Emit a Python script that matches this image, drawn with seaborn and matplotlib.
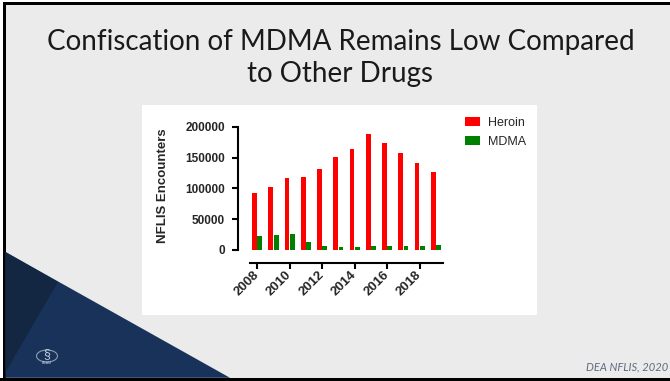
import matplotlib
matplotlib.use("Agg")
import matplotlib.pyplot as plt
import seaborn as sns
import pandas as pd
from matplotlib.patches import Polygon, Circle

W, H = 670, 381

# NFLIS encounters per year
years = [2008, 2009, 2010, 2011, 2012, 2013, 2014, 2015, 2016, 2017, 2018, 2019]
heroin = [92400, 102200, 117300, 118900, 130800, 150800, 163200, 187600, 173000, 156800, 140500, 127000]
mdma = [23200, 23800, 25900, 13500, 6500, 5400, 5400, 5900, 6500, 6500, 7000, 8100]
drugs = ["Heroin", "MDMA"]
drug_colors = ["#ff0000", "#008000"]
y_ticks = [0, 50000, 100000, 150000, 200000]
x_tick_labels = ["2008", "2010", "2012", "2014", "2016", "2018"]

df = pd.DataFrame({
    "Year": [str(y) for y in years] * 2,
    "Encounters": heroin + mdma,
    "Drug": [drugs[0]] * len(years) + [drugs[1]] * len(years),
})

sns.set_style("ticks")
plt.rcParams["font.family"] = ["Liberation Sans", "DejaVu Sans"]

fig = plt.figure(figsize=(W / 100, H / 100), dpi=100, facecolor="#ebebeb")


def fx(x):
    return x / W


def fy(y):
    return 1 - y / H


def poly(points, **kw):
    p = Polygon([(fx(x), fy(y)) for x, y in points], closed=True,
                transform=fig.transFigure, zorder=-2, **kw)
    fig.add_artist(p)


# slide frame
poly([(0, 0), (W, 0), (W, 2), (0, 2)], facecolor="white", lw=0)
poly([(0, 0), (2.5, 0), (2.5, H), (0, H)], facecolor="white", lw=0)
poly([(2.5, 2), (W, 2), (W, 4.5), (2.5, 4.5)], facecolor="black", lw=0)
poly([(2.5, 2), (5.5, 2), (5.5, H), (2.5, H)], facecolor="black", lw=0)
poly([(0, 377.8), (W, 377.8), (W, H), (0, H)], facecolor="black", lw=0)

# corner decoration
poly([(5.5, 252), (230, 377.8), (5.5, 377.8)], facecolor="#18325a", lw=0)
poly([(5.5, 252), (58, 282), (5.5, 372)], facecolor="#132742", lw=0)

# seal
fig.add_artist(Circle((fx(47), fy(356)), 10.5 / W, transform=fig.transFigure,
                      facecolor="none", edgecolor="#8e9db4", lw=0.8, zorder=-1))
fig.text(fx(47), fy(354), "§", ha="center", va="center", fontsize=9,
         color="#c3cddc", zorder=-1)
fig.text(fx(47), fy(363), "ASAM", ha="center", va="center", fontsize=2.5,
         color="#c3cddc", zorder=-1)

# white chart panel
poly([(142, 105), (537, 105), (537, 315), (142, 315)], facecolor="white", lw=0)

# title and source
fig.text(fx(340.5), fy(58), "Confiscation of MDMA Remains Low Compared\nto Other Drugs",
         ha="center", va="center", family=["Lato", "DejaVu Sans"], fontsize=20,
         linespacing=1.33, color="#1a1a1a")
fig.text(fx(668), fy(367), "DEA NFLIS, 2020", ha="right", va="center",
         family=["Lato", "DejaVu Sans"], style="italic", fontsize=8, color="#5d6b80")

# bar chart
ax = fig.add_axes([fx(238), fy(250), (444 - 238) / W, (250 - 126.7) / H])
ax.set_facecolor("none")
sns.barplot(data=df, x="Year", y="Encounters", hue="Drug", palette=drug_colors,
            width=0.66, gap=0.1, saturation=1, errorbar=None, linewidth=0, ax=ax)

# detached axis lines (set before tick labels: moving a spine resets its ticks)
for side in ("top", "right"):
    ax.spines[side].set_visible(False)
ax.spines["bottom"].set_position(("outward", 9.4))
for side in ("left", "bottom"):
    ax.spines[side].set_linewidth(1.5)
    ax.spines[side].set_color("black")
ax.spines["left"].set_bounds(0, 200000)
ax.spines["bottom"].set_bounds(-0.44, 11.44)

ax.set_ylim(0, 200000)
ax.set_xlim(-1.18, 11.5)
ax.set_yticks(y_ticks)
ax.set_yticklabels([str(v) for v in y_ticks], fontsize=8.5, fontweight="bold")
ax.set_xticks(range(0, 12, 2))
ax.set_xticklabels(x_tick_labels, rotation=45, ha="right", va="center",
                   rotation_mode="anchor", fontsize=9.5, fontweight="bold")
ax.set_xlabel("")
ax.set_ylabel("NFLIS Encounters", fontsize=9.5, fontweight="bold", va="center")
ax.yaxis.set_label_coords(-0.365, 0.52)
ax.tick_params(axis="both", width=1.5, length=4, color="black")
ax.tick_params(axis="y", pad=5.5)
ax.tick_params(axis="x", pad=3)

handles, labels = ax.get_legend_handles_labels()
ax.get_legend().remove()
fig.legend(handles, labels, loc="upper left", bbox_to_anchor=(fx(465), fy(116.5)),
           frameon=False, borderpad=0, borderaxespad=0, handlelength=1.2,
           handleheight=0.72, handletextpad=0.65, labelspacing=0.62,
           prop={"family": "Liberation Sans", "size": 9})

fig.savefig("out.png", dpi=100, facecolor=fig.get_facecolor())
